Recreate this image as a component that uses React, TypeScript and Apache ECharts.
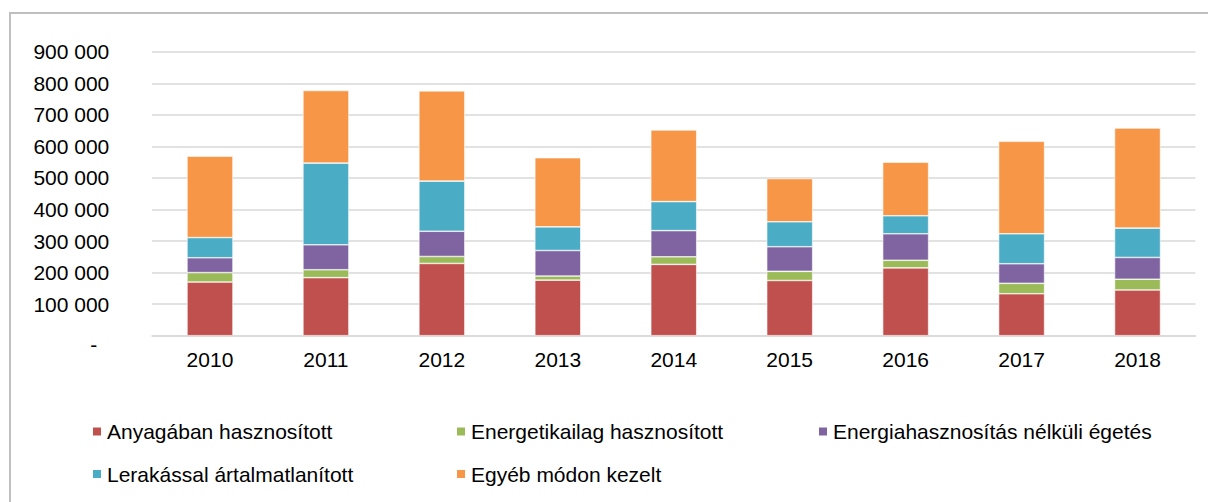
import React, { useEffect, useRef } from "react";
import * as echarts from "echarts";

const categories = ["2010", "2011", "2012", "2013", "2014", "2015", "2016", "2017", "2018"];
const anyagaban = [170000, 184000, 229000, 176000, 226000, 175000, 215000, 133000, 145000];
const energetikailag = [30000, 25000, 22000, 13000, 24000, 29000, 24000, 33000, 34000];
const egetes = [47000, 79000, 80000, 81000, 83000, 78000, 84000, 62000, 69000];
const lerakassal = [64000, 259000, 159000, 75000, 92000, 79000, 57000, 95000, 93000];
const egyeb = [258000, 230000, 286000, 219000, 227000, 137000, 170000, 293000, 317000];

const seriesNames = [
  "Anyagában hasznosított",
  "Energetikailag hasznosított",
  "Energiahasznosítás nélküli égetés",
  "Lerakással ártalmatlanított",
  "Egyéb módon kezelt",
];
const seriesData = [anyagaban, energetikailag, egetes, lerakassal, egyeb];
const colors = ["#C0504D", "#9BBB59", "#8064A2", "#4BACC6", "#F79646"];

const FONT = "'Liberation Sans', Arial, sans-serif";

export default function App() {
  const ref = useRef<HTMLDivElement>(null);
  useEffect(() => {
    document.body.style.margin = "0";
    const chart = echarts.init(ref.current!, undefined, { renderer: "svg" });
    const legendPos = [
      { left: 91, top: 421 },
      { left: 455, top: 421 },
      { left: 817, top: 421 },
      { left: 91, top: 463.5 },
      { left: 455, top: 463.5 },
    ];
    chart.setOption({
      animation: false,
      textStyle: { fontFamily: FONT },
      graphic: [
        {
          type: "rect",
          shape: { x: 10, y: 13, width: 1400, height: 700 },
          style: { fill: "none", stroke: "#bfbfbf", lineWidth: 2 },
          silent: true,
        },
      ],
      grid: { left: 152, right: 12.5, top: 51.7, bottom: 166.3, containLabel: false },
      legend: seriesNames.map((n, i) => ({
        data: [n],
        left: legendPos[i].left,
        top: legendPos[i].top,
        itemWidth: 10,
        itemHeight: 10,
        icon: "rect",
        padding: 0,
        textStyle: { fontFamily: FONT, fontSize: 21, color: "#000" },
      })),
      xAxis: {
        type: "category",
        data: categories,
        axisTick: { show: false },
        axisLine: { show: true, lineStyle: { color: "#d9d9d9", width: 1.5 } },
        axisLabel: { fontFamily: FONT, fontSize: 21, color: "#000", margin: 13 },
      },
      yAxis: {
        type: "value",
        min: 0,
        max: 900000,
        interval: 100000,
        axisLine: { show: false },
        axisTick: { show: false },
        splitLine: { lineStyle: { color: "#d9d9d9", width: 1.5 } },
        axisLabel: {
          fontFamily: FONT,
          fontSize: 21,
          color: "#000",
          margin: 42.7,
          formatter: (v: number) =>
            v === 0 ? "{dash|-}" : String(v / 1000) + " 000",
          rich: {
            dash: { fontFamily: FONT, fontSize: 21, color: "#000", padding: [18, 12, 0, 0] },
          },
        },
      },
      series: seriesNames.map((n, i) => ({
        name: n,
        type: "bar",
        stack: "total",
        data: seriesData[i],
        barWidth: 46,
        itemStyle: { color: colors[i], borderColor: "#ffffff", borderWidth: 0.6 },
      })),
    });
    return () => chart.dispose();
  }, []);
  return <div ref={ref} style={{ width: 1208, height: 502 }} />;
}
